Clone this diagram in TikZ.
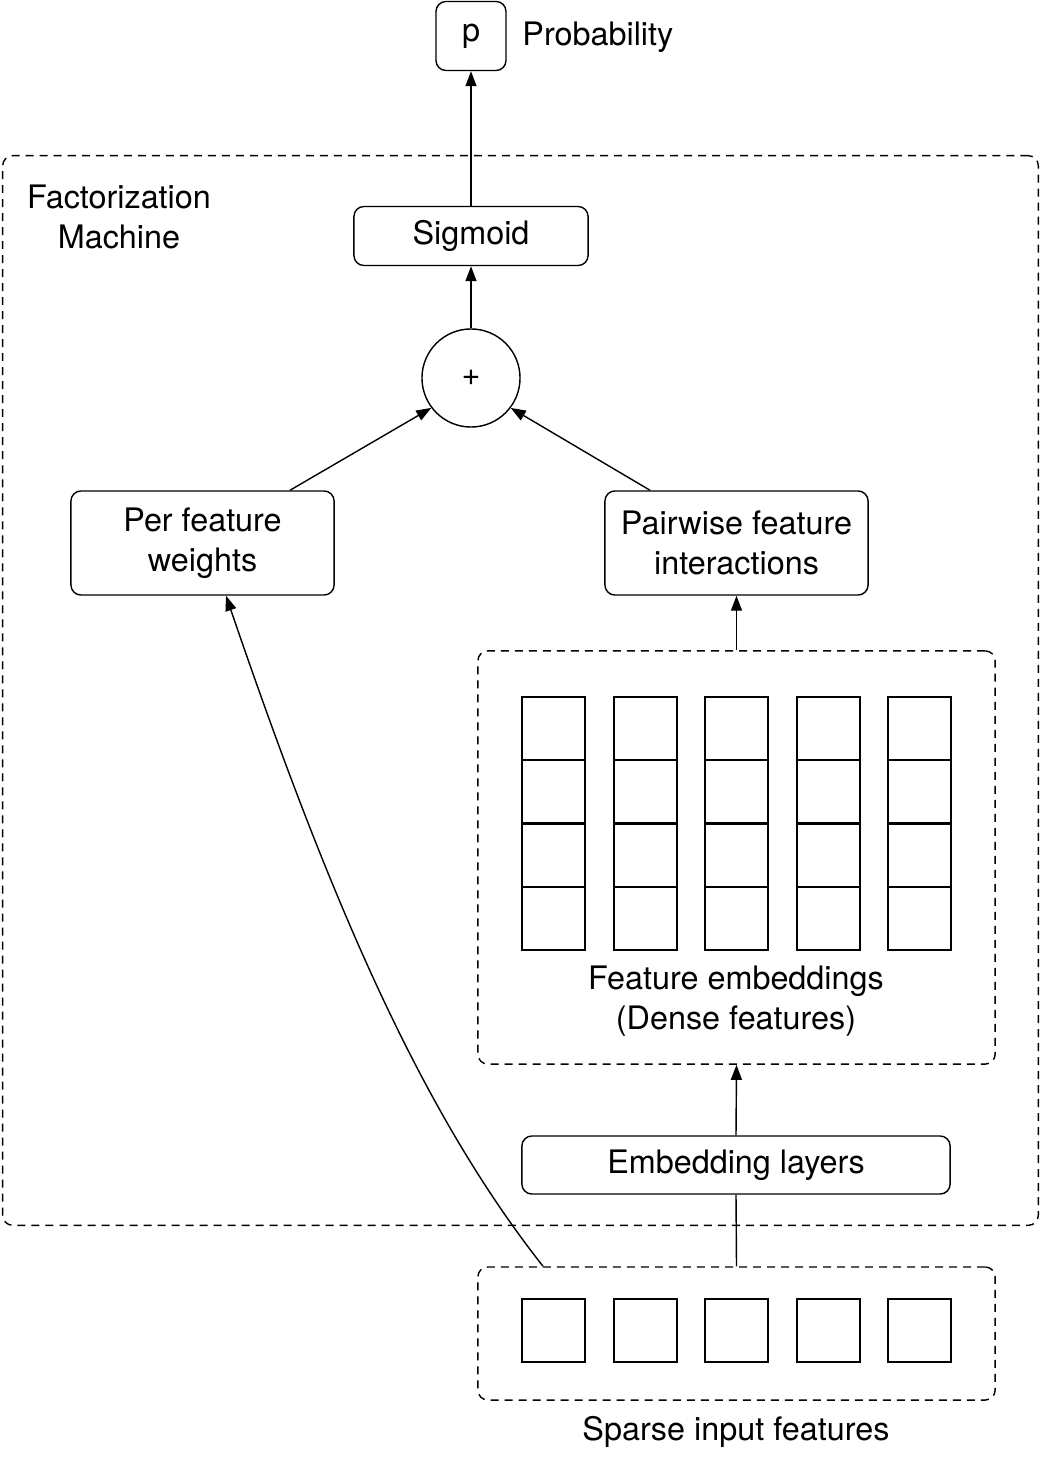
\documentclass[tikz,border=0pt]{standalone}
\usepackage{fontspec}
\setmainfont{TeX Gyre Heros}
\usetikzlibrary{arrows.meta}
\tikzstyle{fmText} = [
    text=black,
    font=\fontsize{9.2}{11.5}\selectfont
]
\tikzstyle{fmWraptext} = [
    fmText,
    align=center
]
\tikzstyle{fmRoundedRectangle} = [
    rectangle,
    fmWraptext,
    draw=black,
    line width=0.4pt,
    rounded corners=1mm
]
\tikzstyle{fmDashedBox} = [
    fmRoundedRectangle,
    dash pattern=on 0.8mm off 0.6mm
]
\tikzstyle{fmArrow} = [
    line width=0.4pt,
    -{Triangle[length=1.5mm,width=1.1mm]}
]

\begin{document}
\begin{tikzpicture}[x=0.01cm, y=-0.01cm]

        \useasboundingbox (0,0) rectangle (1040,1461);

        \node[ fmDashedBox,
                minimum width=10.35cm,
                minimum height=10.69cm] (fm) at (520.5,690.5) {};

        \node[ fmWraptext] (fmlabel) at (119,217) {Factorization\\Machine};

        \node[ fmRoundedRectangle,
                minimum width=0.7cm,
                minimum height=0.69cm] (p) at (471,36) {p};

        \node[ fmText, anchor=west] (prob) at (510,37) {Probability};

        \node[ fmRoundedRectangle,
                minimum width=2.34cm,
                minimum height=0.59cm] (sigmoid) at (471,236) {Sigmoid};

        \node[ circle,
                fmWraptext,
                draw=black,
                line width=0.4pt,
                minimum size=0.98cm] (plus) at (471,378) {+};

        \node[ fmRoundedRectangle,
                minimum width=2.63cm,
                minimum height=1.04cm] (weights) at (202.5,543) {Per feature\\weights};

        \node[ fmRoundedRectangle,
                minimum width=2.63cm,
                minimum height=1.04cm] (pairwise) at (736.5,543) {Pairwise feature\\interactions};

        \node[ fmDashedBox,
                minimum width=5.17cm,
                minimum height=4.13cm] (emb) at (736.5,857.5) {};

        \foreach \x in {522,614,705,797,888}
            \foreach \y in {697,760,824,887}
                \draw[line width=0.4pt] (\x,\y) rectangle ++(63,63);

        \node[ fmWraptext] (emblabel) at (736,1001) {Feature embeddings\\(Dense features)};

        \node[ fmRoundedRectangle,
                minimum width=4.28cm,
                minimum height=0.58cm] (layers) at (736,1165) {Embedding layers};

        \node[ fmDashedBox,
                minimum width=5.17cm,
                minimum height=1.33cm] (sparse) at (736.5,1333.5) {};

        \foreach \x in {522,614,705,797,888}
            \draw[line width=0.4pt] (\x,1299) rectangle ++(63,63);

        \node[ fmText] (sparselabel) at (736,1432) {Sparse input features};

        \draw[line width=0.4pt] (sparse.north) -- (layers.south);
        \draw[fmArrow] (layers.north) -- (emb.south);
        \draw[fmArrow] (emb.north) -- (pairwise.south);
        \draw[fmArrow] (pairwise.north -| 650,0) -- (plus.-37);
        \draw[fmArrow] (weights.north -| 290,0) -- (plus.-143);
        \draw[fmArrow] (plus.north) -- (sigmoid.south);
        \draw[fmArrow] (sigmoid.north) -- (p.south);
        \draw[fmArrow] (sparse.north -| 543,0) .. controls (420,1110) and (330,900) .. (weights.south -| 226,0);

\end{tikzpicture}
\end{document}
